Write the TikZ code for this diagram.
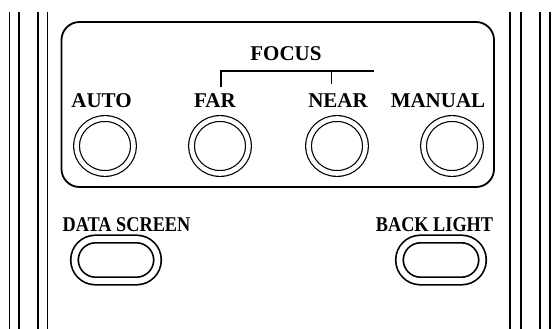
\documentclass[tikz,border=0pt]{standalone}
\usepackage{fontspec}
\setmainfont{Liberation Serif}
\usetikzlibrary{shapes.geometric,shapes.misc}

\begin{document}
\begin{tikzpicture}[x=1pt, y=-1pt,
  rail/.style={black, line width=1.6pt},
  lbl/.style={font=\fontsize{21}{24}\selectfont\bfseries, inner sep=0pt, anchor=base},
  knob/.style={ellipse, draw, line width=1.2pt, double, double distance=4.6pt, minimum width=57pt, minimum height=55pt, inner sep=0pt},
  padkey/.style={rounded rectangle, draw, line width=1.7pt, double, double distance=5.8pt, minimum width=83pt, minimum height=42pt, inner sep=0pt}]
  \useasboundingbox (0,0) rectangle (554,329);
  % side rails
  \foreach \x in {9.5,19,38,47.5,510,521,540,550}
    \draw[rail] (\x,12) -- (\x,329);
  % panel
  \draw[black, line width=1.8pt, rounded corners=18pt] (61.5,22) rectangle (494,187);
  % focus bracket
  \node[lbl] (focus) at (286,60) {FOCUS};
  \coordinate (brL) at (221,87);
  \coordinate (brR) at (373.5,71);
  \coordinate (brM) at (331.5,84);
  \draw[black, line width=1.6pt] (brL) |- (brR);
  \draw[black, line width=1.6pt] (brM) -- (brM |- brR);
  % knob labels
  \node[lbl] (autolbl) at (101.5,107.5) {AUTO};
  \node[lbl] (farlbl) at (215,107.5) {FAR};
  \node[lbl] (nearlbl) at (338,107.5) {NEAR};
  \node[lbl] (manlbl) at (438,107.5) {MANUAL};
  % knobs
  \node[knob] (auto) at (105,146) {};
  \node[knob] (far) at (220,146) {};
  \node[knob] (near) at (337,146) {};
  \node[knob] (manual) at (452,146) {};
  % lower keys
  \node[lbl] (datalbl) at (126.5,231) {\scalebox{0.87}[1]{DATA SCREEN}};
  \node[lbl] (backlbl) at (434.5,231) {\scalebox{0.87}[1]{BACK LIGHT}};
  \node[padkey] (data) at (116,260) {};
  \node[padkey] (back) at (441,260) {};
\end{tikzpicture}
\end{document}
